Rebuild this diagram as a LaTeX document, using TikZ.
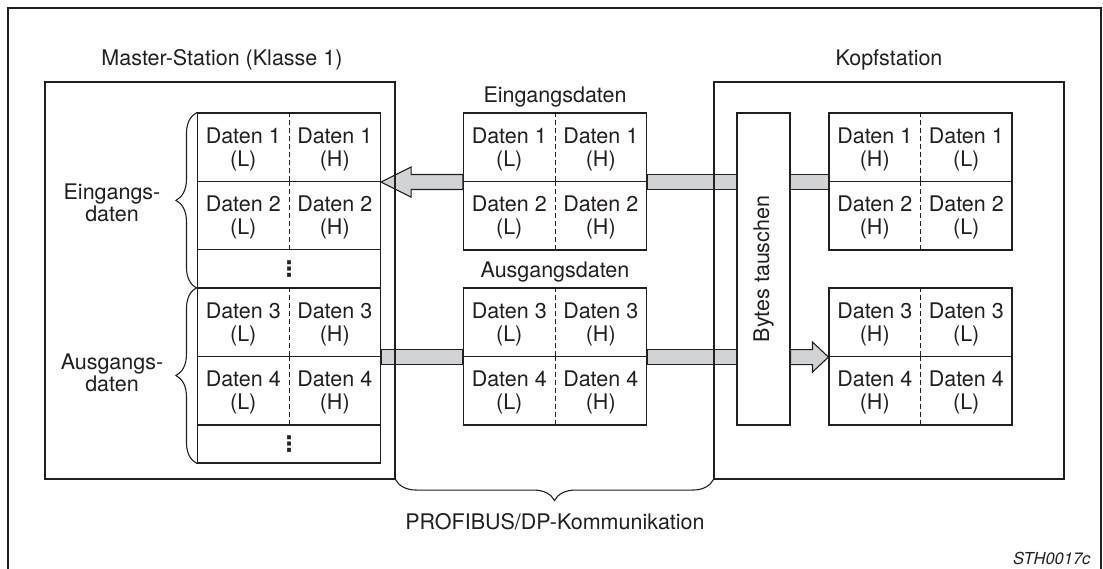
\documentclass[tikz,border=0pt]{standalone}
\usepackage{fontspec}
\setmainfont{TeX Gyre Heros}
\newfontfamily\dotsfont{DejaVu Sans Bold}
\usetikzlibrary{positioning,calc,backgrounds,decorations.pathreplacing}

\definecolor{inkgray}{RGB}{35,31,32}
\definecolor{bandgray}{RGB}{210,211,212}

\begin{document}
\begin{tikzpicture}[
    x=1pt, y=-1pt,
    every node/.style={text=inkgray, font=\fontsize{21.5}{20}\selectfont},
    station/.style={draw=inkgray, line width=1.1pt, minimum width=350pt, minimum height=397pt, inner sep=0pt},
    datarow/.style={draw=inkgray, fill=white, line width=1.1pt, minimum width=183pt, minimum height=68.5pt, inner sep=0pt},
    dotrow/.style={datarow, minimum height=38pt, font=\fontsize{21.5}{20}\dotsfont},
    half/.style={align=center, inner sep=0pt, font=\fontsize{21.5}{23}\selectfont},
    divider/.style={inkgray, line width=0.9pt, dash pattern=on 5pt off 3pt},
    band/.style={draw=inkgray, fill=bandgray, line width=1.1pt, line join=miter},
    curly/.style={draw=inkgray, line width=1.1pt, decorate, decoration={brace, amplitude=21pt}},
    bytebox/.style={draw=inkgray, fill=white, line width=1.1pt, minimum width=53pt, minimum height=312pt, inner sep=0pt}
]
    \useasboundingbox (0,0) rectangle (1103,569);

    % outer frame, open at the bottom
    \draw[inkgray, line width=1.1pt] (8,569) -- (8,8) -- (1101,8) -- (1101,569);

    % the two stations
    \node[station] (master) at (220,280.5) {};
    \node[station] (kopf) at (889,280.5) {};
    \node (mastertitle) at (222,60) {Master-Station (Klasse 1)};
    \node (kopftitle) at (889,60) {Kopfstation};

    % byte swap block in the head station
    \node[bytebox] (bytes) at (763.5,269) {};
    \node[rotate=90] (byteslbl) at (bytes.center) {Bytes tauschen};

    % data words: master image, telegram, head station
    \foreach \tab/\cx/\a/\b in {m/289/L/H, e/555/L/H, k/920.5/H/L} {
        \foreach \n/\cy in {1/147.25, 2/215.75, 3/322.25, 4/390.75} {
            \node[datarow] (\tab\n) at (\cx,\cy) {};
            \node[half] (\tab\n-l) at ($(\tab\n.center)+(-45.75pt,-2pt)$) {Daten \n\\(\a)};
            \node[half] (\tab\n-r) at ($(\tab\n.center)+(45.75pt,-2pt)$) {Daten \n\\(\b)};
            \draw[divider] (\tab\n.north) -- (\tab\n.south);
        }
    }
    \node[dotrow] (mdots1) at (289,268.75) {⋮};
    \node[dotrow] (mdots2) at (289,444) {⋮};
    \draw[inkgray, line width=2.4pt] (mdots1.south west) -- (mdots1.south east);

    \node (eintitle) at (555,97) {Eingangsdaten};
    \node (austitle) at (555,272) {Ausgangsdaten};

    % data flow bands
    \begin{scope}[on background layer]
        % input data: head station -> master
        \draw[band] ($(k1.south west)+(0,7.5pt)$) rectangle ($(bytes.east |- k1.south)+(0,-7.5pt)$);
        \draw[band] ($(e1.south east)+(0,7.5pt)$) rectangle ($(bytes.west |- e1.south)+(0,-7.5pt)$);
        \draw[band] (m1.south east) -- ++(30pt,15pt) -- ++(0,-7.5pt)
            -- ($(e1.south west)+(0,7.5pt)$) -- ($(e1.south west)+(0,-7.5pt)$)
            -- ($(m1.south east)+(30pt,-7.5pt)$) -- ++(0,-7.5pt) -- cycle;
        % output data: master -> head station
        \draw[band] ($(m3.south east)+(0,7.5pt)$) rectangle ($(e3.south west)+(0,-7.5pt)$);
        \draw[band] ($(e3.south east)+(0,7.5pt)$) rectangle ($(bytes.west |- e3.south)+(0,-7.5pt)$);
        \draw[band] ($(bytes.east |- k3.south)+(0,7.5pt)$) -- ($(k3.south west)+(-16pt,7.5pt)$)
            -- ++(0,7.5pt) -- (k3.south west) -- ++(-16pt,-15pt) -- ++(0,7.5pt)
            -- ($(bytes.east |- k3.south)+(0,-7.5pt)$) -- cycle;
    \end{scope}

    % braces and their labels
    \draw[curly] (mdots1.south west) -- (m1.north west);
    \draw[curly] (mdots2.south west) -- (m3.north west);
    \node[align=center] (inlbl) at (112,203) {Eingangs-\\daten};
    \node[align=center] (outlbl) at (112,373) {Ausgangs-\\daten};

    \draw[curly, decoration={brace, mirror, amplitude=21pt}] (master.south east) -- (kopf.south west);
    \node (buslbl) at (555,522) {PROFIBUS/DP-Kommunikation};

    \node[anchor=east, font=\fontsize{16.5}{18}\selectfont\itshape] (figid) at (1094,558) {STH0017c};

\end{tikzpicture}
\end{document}
